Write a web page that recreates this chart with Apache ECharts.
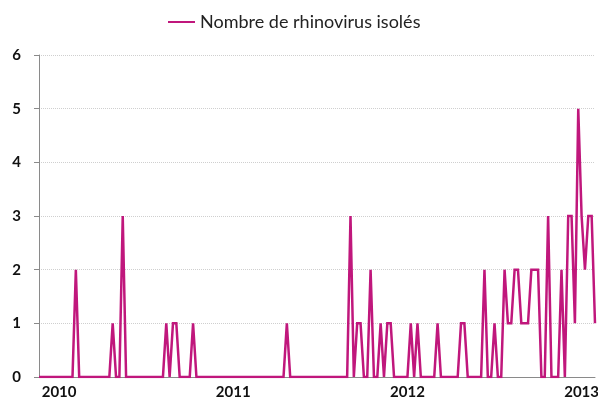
<!DOCTYPE html>
<html>
<head>
<meta charset="utf-8">
<script src="https://cdn.jsdelivr.net/npm/echarts@6/dist/echarts.min.js"></script>
<style>
    html, body { margin: 0; padding: 0; background: #ffffff; }
    #chart { width: 598px; height: 403px; }
</style>
</head>
<body>
<div id="chart"></div>
<script>
// weekly series, first point = week 48 of 2009, last = week 5 of 2013
var startYear = 2009;
var startWeek = 48;
var weeksInYear = { 2009: 53, 2010: 52, 2011: 52, 2012: 52, 2013: 52 };

var seriesName = 'Nombre de rhinovirus isolés';
var rhinoValues = [
    0, 0, 0, 0, 0, 0, 0, 0, 0, 0,   // 0-9
    0, 2, 0, 0, 0, 0, 0, 0, 0, 0,   // 10-19
    0, 0, 1, 0, 0, 3, 0, 0, 0, 0,   // 20-29
    0, 0, 0, 0, 0, 0, 0, 0, 1, 0,   // 30-39
    1, 1, 0, 0, 0, 0, 1, 0, 0, 0,   // 40-49
    0, 0, 0, 0, 0, 0, 0, 0, 0, 0,   // 50-59
    0, 0, 0, 0, 0, 0, 0, 0, 0, 0,   // 60-69
    0, 0, 0, 0, 1, 0, 0, 0, 0, 0,   // 70-79
    0, 0, 0, 0, 0, 0, 0, 0, 0, 0,   // 80-89
    0, 0, 0, 3, 0, 1, 1, 0, 0, 2,   // 90-99
    0, 0, 1, 0, 1, 1, 0, 0, 0, 0,   // 100-109
    0, 1, 0, 1, 0, 0, 0, 0, 0, 1,   // 110-119
    0, 0, 0, 0, 0, 0, 1, 1, 0, 0,   // 120-129
    0, 0, 0, 2, 0, 0, 1, 0, 0, 2,   // 130-139
    1, 1, 2, 2, 1, 1, 1, 2, 2, 2,   // 140-149
    0, 0, 3, 0, 0, 0, 2, 0, 3, 3,   // 150-159
    1, 5, 3, 2, 3, 3, 1             // 160-166
];

var yTicks = [0, 1, 2, 3, 4, 5, 6];

// category names "2010-S01" etc.
var weekLabels = [];
var y = startYear, w = startWeek;
for (var i = 0; i < rhinoValues.length; i++) {
    weekLabels.push(y + '-S' + (w < 10 ? '0' + w : w));
    w++;
    if (w > weeksInYear[y]) { w = 1; y++; }
}

var chart = echarts.init(document.getElementById('chart'));
chart.setOption({
    backgroundColor: '#ffffff',
    animation: false,
    textStyle: {
        fontFamily: 'Lato, "Open Sans", sans-serif'
    },
    legend: {
        data: [seriesName],
        top: 8,
        left: 163,
        icon: 'rect',
        itemWidth: 27,
        itemHeight: 2,
        itemGap: 4,
        textStyle: {
            color: '#222',
            fontSize: 18
        }
    },
    grid: {
        left: 39,
        right: 3,
        top: 55,
        bottom: 26,
        containLabel: false,
        outerBoundsMode: 'none'
    },
    xAxis: {
        type: 'category',
        data: weekLabels,
        boundaryGap: false,
        axisLine: {
            lineStyle: { color: '#8a8a8a', width: 1 }
        },
        axisTick: { show: false },
        splitLine: { show: false },
        axisLabel: {
            margin: 8,
            fontSize: 15,
            fontWeight: 'bold',
            color: '#111',
            interval: function (index, value) {
                return /-S01$/.test(value);
            },
            formatter: function (value) {
                return value.slice(0, 4);
            }
        }
    },
    yAxis: {
        type: 'value',
        min: yTicks[0],
        max: yTicks[yTicks.length - 1],
        interval: 1,
        axisLine: {
            show: true,
            lineStyle: { color: '#8a8a8a', width: 1 }
        },
        axisTick: {
            show: true,
            length: 5,
            lineStyle: { color: '#8a8a8a' }
        },
        splitLine: {
            show: true,
            lineStyle: { color: '#cfcfcf', type: 'dotted', width: 1 }
        },
        axisLabel: {
            margin: 18,
            fontSize: 15,
            fontWeight: 'bold',
            color: '#111'
        }
    },
    series: [{
        name: seriesName,
        type: 'line',
        data: rhinoValues,
        symbol: 'none',
        lineStyle: {
            color: '#c0177c',
            width: 2.5,
            join: 'miter'
        },
        itemStyle: { color: '#c0177c' }
    }]
});
</script>
</body>
</html>
